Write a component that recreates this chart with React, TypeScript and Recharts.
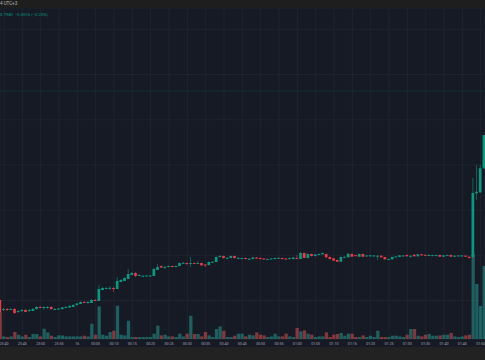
import { ComposedChart, Bar, XAxis, YAxis, CartesianGrid, ReferenceLine, Cell } from 'recharts'

const UP = '#089981'
const DOWN = '#f23645'
const UP_VOL = 'rgba(38,166,154,0.5)'
const DOWN_VOL = 'rgba(239,83,80,0.5)'

// minute index of the first candle (0 = 23:40)
const firstMinute = -1

const opens = [
  0.589, 0.579, 0.580, 0.580, 0.580, 0.577, 0.578, 0.579, 0.578, 0.578, 0.580, 0.582, 0.582, 0.581, 0.582, 0.580, 0.580,
  0.580, 0.5815, 0.5815, 0.582, 0.584, 0.585, 0.587, 0.586, 0.586, 0.589, 0.588, 0.599, 0.601, 0.601, 0.601, 0.600,
  0.607, 0.608, 0.610, 0.614, 0.616, 0.6135, 0.613, 0.6133, 0.6133, 0.613, 0.619, 0.623, 0.622, 0.622, 0.623, 0.622,
  0.623, 0.626, 0.626, 0.625, 0.626, 0.6255, 0.626, 0.6245, 0.624, 0.627, 0.627, 0.632, 0.633, 0.631, 0.631, 0.633,
  0.631, 0.630, 0.631, 0.630, 0.630, 0.6315, 0.631, 0.6305, 0.6298, 0.630, 0.630, 0.631, 0.631, 0.6305, 0.630, 0.630,
  0.631, 0.630, 0.636, 0.631, 0.635, 0.633, 0.634, 0.6347, 0.635, 0.632, 0.6307, 0.629, 0.6273, 0.632, 0.6317, 0.635,
  0.6338, 0.6323, 0.635, 0.6333, 0.6327, 0.6333, 0.633, 0.6333, 0.632, 0.6298, 0.6297, 0.6322, 0.632, 0.6333, 0.634,
  0.633, 0.6343, 0.6327, 0.6347, 0.6342, 0.6333, 0.6337, 0.6337, 0.634, 0.6323, 0.6337, 0.634, 0.6323, 0.6333, 0.6333,
  0.6333, 0.6323, 0.632, 0.6957, 0.6967, 0.7207,
]
const highs = [
  0.590, 0.581, 0.581, 0.581, 0.581, 0.579, 0.580, 0.580, 0.580, 0.581, 0.583, 0.583, 0.583, 0.583, 0.583, 0.581, 0.581,
  0.582, 0.583, 0.584, 0.585, 0.586, 0.588, 0.588, 0.588, 0.590, 0.590, 0.604, 0.602, 0.602, 0.603, 0.602, 0.612,
  0.610, 0.612, 0.620, 0.617, 0.617, 0.615, 0.614, 0.614, 0.614, 0.621, 0.625, 0.6235, 0.623, 0.6235, 0.6235, 0.6235,
  0.6265, 0.627, 0.6265, 0.632, 0.6265, 0.628, 0.6265, 0.625, 0.6275, 0.628, 0.6325, 0.634, 0.6335, 0.6318, 0.6335, 0.6335,
  0.6318, 0.6315, 0.6315, 0.6308, 0.632, 0.632, 0.6315, 0.631, 0.6305, 0.631, 0.6315, 0.6315, 0.6315, 0.631, 0.6315, 0.632,
  0.634, 0.637, 0.6365, 0.6355, 0.6355, 0.635, 0.6355, 0.6365, 0.6355, 0.6325, 0.631, 0.6295, 0.6325, 0.6325, 0.6358, 0.6355,
  0.6342, 0.6355, 0.6355, 0.634, 0.6342, 0.634, 0.634, 0.634, 0.6322, 0.6305, 0.6325, 0.633, 0.634, 0.634, 0.6345,
  0.634, 0.6348, 0.635, 0.635, 0.6345, 0.6345, 0.6343, 0.6343, 0.6345, 0.634, 0.6343, 0.6345, 0.6338, 0.6338, 0.6338,
  0.6338, 0.6328, 0.711, 0.724, 0.724, 0.754,
]
const lows = [
  0.576, 0.578, 0.578, 0.579, 0.575, 0.576, 0.577, 0.577, 0.577, 0.578, 0.579, 0.581, 0.579, 0.580, 0.579, 0.579, 0.579,
  0.579, 0.581, 0.581, 0.582, 0.583, 0.585, 0.586, 0.585, 0.586, 0.588, 0.588, 0.599, 0.600, 0.599, 0.597, 0.600,
  0.607, 0.608, 0.610, 0.614, 0.612, 0.613, 0.6125, 0.613, 0.613, 0.613, 0.619, 0.621, 0.620, 0.6215, 0.6215, 0.6215,
  0.6225, 0.6255, 0.624, 0.622, 0.625, 0.625, 0.623, 0.622, 0.6235, 0.6265, 0.627, 0.6315, 0.6305, 0.6305, 0.6305, 0.6305,
  0.6305, 0.6295, 0.6295, 0.6295, 0.6295, 0.630, 0.6295, 0.629, 0.629, 0.6295, 0.6295, 0.6303, 0.6295, 0.6295, 0.6295, 0.6295,
  0.630, 0.6298, 0.631, 0.6305, 0.6325, 0.6325, 0.6335, 0.6345, 0.631, 0.6295, 0.628, 0.627, 0.627, 0.6312, 0.6315, 0.632,
  0.633, 0.632, 0.632, 0.6328, 0.6325, 0.6328, 0.629, 0.6315, 0.6293, 0.6292, 0.6295, 0.6318, 0.6318, 0.6328, 0.6325,
  0.6313, 0.6325, 0.6325, 0.6335, 0.6335, 0.633, 0.6332, 0.6332, 0.632, 0.632, 0.6332, 0.632, 0.632, 0.6328, 0.6328,
  0.632, 0.6305, 0.631, 0.689, 0.696, 0.720,
]
const closes = [
  0.577, 0.580, 0.579, 0.580, 0.576, 0.578, 0.579, 0.577, 0.579, 0.580, 0.582, 0.581, 0.582, 0.582, 0.580, 0.580, 0.5805,
  0.5815, 0.582, 0.583, 0.584, 0.5855, 0.587, 0.586, 0.587, 0.589, 0.588, 0.600, 0.601, 0.601, 0.6012, 0.600, 0.608,
  0.609, 0.611, 0.615, 0.616, 0.613, 0.614, 0.6132, 0.6135, 0.6135, 0.620, 0.622, 0.6215, 0.6222, 0.623, 0.622, 0.623,
  0.626, 0.6262, 0.625, 0.626, 0.6255, 0.626, 0.6237, 0.624, 0.627, 0.6272, 0.632, 0.633, 0.631, 0.6312, 0.633, 0.631,
  0.6312, 0.631, 0.630, 0.6302, 0.6315, 0.6305, 0.630, 0.6295, 0.630, 0.6305, 0.631, 0.6312, 0.630, 0.630, 0.631, 0.6315,
  0.6305, 0.636, 0.631, 0.635, 0.633, 0.6345, 0.635, 0.636, 0.6317, 0.630, 0.6283, 0.6273, 0.632, 0.6322, 0.6353, 0.6323,
  0.6335, 0.635, 0.6323, 0.6335, 0.6337, 0.6335, 0.6333, 0.6317, 0.6297, 0.630, 0.632, 0.6325, 0.6337, 0.6335, 0.6327,
  0.6332, 0.6327, 0.6347, 0.6337, 0.634, 0.634, 0.6339, 0.6339, 0.6323, 0.6337, 0.6339, 0.6323, 0.6333, 0.6335, 0.6335,
  0.6323, 0.631, 0.696, 0.6973, 0.7207, 0.754,
]
const volumes = [
  27, 2.6, 2.0, 2.6, 7.0, 4.3, 2.6, 4.3, 2.0, 5.0, 5.0, 2.6, 10.3, 6.6, 3.3, 2.0, 3.6,
  3.6, 2.6, 2.6, 2.6, 2.6, 2.6, 3.3, 2.6, 15.3, 4.3, 32.6, 4.3, 3.3, 7.0, 8.3, 33.3,
  4.3, 3.6, 18.3, 2.0, 2.0, 2.0, 2.0, 2.0, 2.0, 5.3, 13.3, 3.6, 4.3, 2.6, 2.6, 2.0,
  5.3, 2.6, 5.3, 23.3, 5.0, 5.0, 2.6, 7.0, 3.6, 2.0, 10.0, 12.6, 8.3, 2.0, 2.0, 3.3,
  5.3, 5.3, 2.6, 4.3, 3.6, 6.6, 4.3, 3.6, 2.0, 2.6, 5.3, 2.6, 2.6, 5.3, 2.6, 2.0,
  11.0, 7.6, 8.6, 5.3, 4.3, 2.0, 2.6, 2.6, 6.6, 2.0, 4.3, 5.0, 6.0, 3.3, 5.3, 5.3,
  2.0, 2.0, 3.6, 2.0, 3.3, 2.0, 8.3, 2.0, 2.0, 2.0, 3.3, 3.3, 2.6, 2.0, 4.3,
  10.0, 10.0, 3.3, 2.6, 4.3, 5.0, 3.3, 3.3, 3.6, 4.3, 4.3, 6.0, 2.6, 2.0, 2.6,
  3.6, 4.3, 85, 55, 33, 73,
]

const tickMinutes = [0, 5, 10, 15, 20, 25, 30, 35, 40, 45, 50, 55, 60, 65, 70, 75, 80, 85, 90, 95, 100, 105, 110, 115, 120, 125, 130]
const tickLabels = [
  '23:40', '23:45', '23:50', '23:55', '16', '00:05', '00:10', '00:15', '00:20', '00:25', '00:30', '00:35', '00:40', '00:45',
  '00:50', '00:55', '01:00', '01:05', '01:10', '01:15', '01:20', '01:25', '01:30', '01:35', '01:40', '01:45', '01:50',
]
const gridPrices = [0.5659, 0.5885, 0.6111, 0.6337, 0.6563, 0.6789, 0.7015, 0.7241, 0.7467, 0.7693, 0.7919, 0.8145, 0.8371, 0.8597]
const lastPrice = 0.798

const data = opens.map((open, k) => ({
  i: firstMinute + k,
  open,
  high: highs[k],
  low: lows[k],
  close: closes[k],
  vol: volumes[k],
}))

const Candle = (props: any) => {
  const { x, y, width, height, payload } = props
  const { open, close, high, low } = payload
  const top = Math.min(y, y + height)
  const bot = Math.max(y, y + height)
  const span = high - low
  const py = (v: number) => (span ? top + ((high - v) / span) * (bot - top) : top)
  const color = close >= open ? UP : DOWN
  const bTop = py(Math.max(open, close))
  const bH = Math.max(1, py(Math.min(open, close)) - bTop)
  const cx = x + width / 2
  return (
    <g>
      <line x1={cx} x2={cx} y1={top} y2={bot} stroke={color} strokeOpacity={0.55} strokeWidth={1} />
      <rect x={x} y={bTop} width={width} height={bH} fill={color} />
    </g>
  )
}

const xDomain = [-1.09, 131.18]

export default function App() {
  return (
    <div
      style={{
        position: 'absolute',
        left: 0,
        top: 0,
        width: 485,
        height: 360,
        background: '#222222',
        overflow: 'hidden',
        fontFamily: 'Roboto, sans-serif',
      }}
    >
      <div style={{ height: 8, background: '#1e1e1e', color: '#b8b8b8', fontSize: 4.5, lineHeight: '8px', whiteSpace: 'pre' }}>
        4 UTC+3
      </div>
      <div style={{ position: 'absolute', top: 8, left: 0, width: 485, height: 339, background: '#161a25' }}>
        <ComposedChart width={485} height={339} data={data} margin={{ top: 0, right: 0, left: 0, bottom: 0 }}>
          <CartesianGrid xAxisId="p" yAxisId="p" stroke="#1f232e" strokeWidth={1} />
          <XAxis
            xAxisId="p"
            dataKey="i"
            type="number"
            domain={xDomain}
            allowDataOverflow
            ticks={tickMinutes}
            interval={0}
            tickFormatter={(v: number) => tickLabels[tickMinutes.indexOf(v)] ?? ''}
            axisLine={false}
            tickLine={false}
            tickSize={0}
            tickMargin={3}
            height={8}
            tick={{ fontSize: 3.6, fill: '#a3a6af', fontFamily: 'Roboto' }}
          />
          <XAxis xAxisId="v" dataKey="i" type="number" domain={xDomain} allowDataOverflow hide />
          <YAxis yAxisId="p" hide domain={[0.55, 0.881]} allowDataOverflow ticks={gridPrices} />
          <YAxis yAxisId="v" hide domain={[0, 331]} allowDataOverflow />
          <ReferenceLine xAxisId="p" yAxisId="p" y={lastPrice} stroke={UP} strokeOpacity={0.16} strokeWidth={1} />
          <Bar xAxisId="v" yAxisId="v" dataKey="vol" barSize={3.3} isAnimationActive={false}>
            {data.map((d) => (
              <Cell key={d.i} fill={d.close >= d.open ? UP_VOL : DOWN_VOL} />
            ))}
          </Bar>
          <Bar
            xAxisId="p"
            yAxisId="p"
            dataKey={(d: any) => [d.low, d.high]}
            barSize={2.7}
            shape={Candle}
            isAnimationActive={false}
          />
        </ComposedChart>
        <div style={{ position: 'absolute', top: 4, left: 0, fontSize: 4.2, lineHeight: '5px', color: UP, whiteSpace: 'pre' }}>
          0.7980  −0.0016 (−0.20%)
        </div>
      </div>
    </div>
  )
}
